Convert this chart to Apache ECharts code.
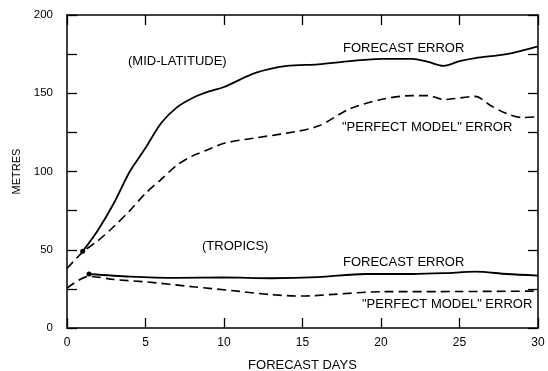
<!DOCTYPE html>
<html><head><meta charset="utf-8">
<script src="https://cdn.jsdelivr.net/npm/echarts@6/dist/echarts.min.js"></script>
<style>html,body{margin:0;padding:0;background:#fff}#c{width:548px;height:371px}</style>
</head><body><div id="c"></div>
<script>
// Mid-latitude forecast error (solid)
const midFcDays = [1, 2, 3, 4, 5, 6, 7, 8, 9, 10, 12, 14, 16, 18, 20, 22, 23, 24, 25, 26, 28, 30];
const midFcVals = [49, 63, 80, 100, 115, 131, 141, 147, 151, 154, 163, 167.5, 168.5, 170.5, 172, 172, 170, 167.5, 170.5, 172.5, 175, 180];
// Mid-latitude "perfect model" error (dashed)
const midPmDays = [0, 1, 2, 3, 4, 5, 6, 7, 8, 9, 10, 12, 14, 16, 18, 20, 22, 23, 24, 26, 27, 28, 29, 30];
const midPmVals = [38, 48.5, 56, 65, 75, 86, 95, 104, 110, 114, 118, 121.5, 124.5, 129, 140, 146, 148.5, 148.5, 146, 148, 142, 137, 134.5, 135];
// Tropics forecast error (solid)
const trFcDays = [1.4, 4, 7, 10, 13, 16, 19, 22, 24, 26, 28, 30];
const trFcVals = [34.5, 32.8, 32, 32.3, 31.8, 32.5, 34.5, 34.5, 35, 36, 34.5, 33.5];
// Tropics "perfect model" error (dashed)
const trPmDays = [0, 1.4, 3, 5, 8, 11, 13, 15, 17, 20, 25, 30];
const trPmVals = [25.5, 33, 31, 29.5, 26.4, 23.4, 21.3, 20.4, 21.5, 23.2, 23.3, 23.6];

const xTicks = [0, 5, 10, 15, 20, 25, 30];
const yTickLabels = [0, 50, 100, 150, 200];

const pairs = (xs, ys) => xs.map((x, i) => [x, ys[i]]);
const FONT = 'Liberation Sans';
const axisLine = { show: true, onZero: false, lineStyle: { color: '#000', width: 1.5 } };
const tick = { inside: true, length: 10, lineStyle: { color: '#000', width: 1.3 } };

const chart = echarts.init(document.getElementById('c'), null, { renderer: 'canvas' });
const solid = { color: '#000', width: 1.8, type: 'solid' };
const dashed = { color: '#000', width: 1.6, type: [9, 5] };
const lineCommon = { type: 'line', smooth: 0.3 };
chart.setOption({
  animation: false,
  backgroundColor: '#fff',
  grid: { left: 67, right: 10, top: 15, bottom: 43, containLabel: false, outerBoundsMode: 'none' },
  xAxis: [
    { type: 'value', min: 0, max: 30, interval: 5, position: 'bottom',
      name: 'FORECAST DAYS', nameLocation: 'middle', nameGap: 31,
      nameTextStyle: { fontFamily: FONT, fontSize: 13, color: '#000' },
      axisLine, axisTick: tick,
      axisLabel: { margin: 9, fontFamily: FONT, fontSize: 12, color: '#000',
        formatter: v => xTicks.includes(v) ? String(v) : '' },
      splitLine: { show: false } },
    { type: 'value', min: 0, max: 30, interval: 5, position: 'top',
      axisLine, axisTick: tick,
      axisLabel: { show: false }, splitLine: { show: false } }
  ],
  yAxis: [
    { type: 'value', min: 0, max: 200, interval: 25, position: 'left',
      name: 'METRES', nameLocation: 'middle', nameGap: 41, nameRotate: 90,
      nameTextStyle: { fontFamily: FONT, fontSize: 11, color: '#000' },
      axisLine, axisTick: tick,
      axisLabel: { margin: 14, fontFamily: FONT, fontSize: 11.5, color: '#000',
        formatter: v => yTickLabels.includes(v) ? String(v) : '' },
      splitLine: { show: false } },
    { type: 'value', min: 0, max: 200, interval: 25, position: 'right',
      axisLine, axisTick: tick,
      axisLabel: { show: false }, splitLine: { show: false } }
  ],
  series: [
    Object.assign({}, lineCommon, { data: pairs(midFcDays, midFcVals), lineStyle: solid,
      symbol: (v, p) => p.dataIndex === 0 ? 'circle' : 'none', symbolSize: 5,
      itemStyle: { color: '#000' } }),
    Object.assign({}, lineCommon, { data: pairs(midPmDays, midPmVals), lineStyle: dashed, symbol: 'none' }),
    Object.assign({}, lineCommon, { data: pairs(trFcDays, trFcVals), lineStyle: solid,
      symbol: (v, p) => p.dataIndex === 0 ? 'circle' : 'none', symbolSize: 5,
      itemStyle: { color: '#000' } }),
    Object.assign({}, lineCommon, { data: pairs(trPmDays, trPmVals), lineStyle: dashed, symbol: 'none' })
  ],
  graphic: [
    { type: 'text', left: 128, top: 55, style: { text: '(MID-LATITUDE)', font: '13px "Liberation Sans"', fill: '#000' } },
    { type: 'text', left: 343, top: 42, style: { text: 'FORECAST ERROR', font: '13px "Liberation Sans"', fill: '#000' } },
    { type: 'text', left: 342, top: 121, style: { text: '"PERFECT MODEL" ERROR', font: '13px "Liberation Sans"', fill: '#000' } },
    { type: 'text', left: 202, top: 240, style: { text: '(TROPICS)', font: '13px "Liberation Sans"', fill: '#000' } },
    { type: 'text', left: 343, top: 256, style: { text: 'FORECAST ERROR', font: '13px "Liberation Sans"', fill: '#000' } },
    { type: 'text', left: 362, top: 298, style: { text: '"PERFECT MODEL" ERROR', font: '13px "Liberation Sans"', fill: '#000' } }
  ]
});
</script></body></html>
